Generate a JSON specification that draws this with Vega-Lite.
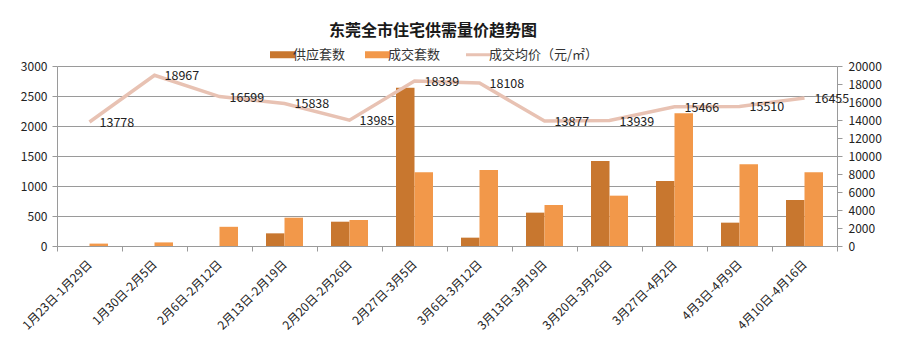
{
  "$schema": "https://vega.github.io/schema/vega-lite/v6.json",
  "width": 780,
  "height": 180,
  "autosize": {"type": "none"},
  "padding": {"left": 57, "top": 66, "right": 69, "bottom": 112},
  "background": "white",
  "config": {
    "font": "Noto Sans CJK SC",
    "view": {"stroke": null},
    "axis": {"labelFont": "Noto Sans CJK SC", "labelColor": "#222", "domainColor": "#9a9a9a", "tickColor": "#9a9a9a", "gridColor": "#9a9a9a", "labelFontSize": 12}
  },
  "title": {
    "text": "东莞全市住宅供需量价趋势图",
    "fontSize": 16,
    "fontWeight": "bold",
    "color": "#1a1a1a",
    "offset": 9,
    "dx": -14
  },
  "datasets": {
    "bars": [
      {"week": "1月23日-1月29日", "series": "供应套数", "value": 0},
      {"week": "1月23日-1月29日", "series": "成交套数", "value": 40},
      {"week": "1月30日-2月5日", "series": "供应套数", "value": 0},
      {"week": "1月30日-2月5日", "series": "成交套数", "value": 60},
      {"week": "2月6日-2月12日", "series": "供应套数", "value": 0},
      {"week": "2月6日-2月12日", "series": "成交套数", "value": 320},
      {"week": "2月13日-2月19日", "series": "供应套数", "value": 211},
      {"week": "2月13日-2月19日", "series": "成交套数", "value": 472},
      {"week": "2月20日-2月26日", "series": "供应套数", "value": 405},
      {"week": "2月20日-2月26日", "series": "成交套数", "value": 433},
      {"week": "2月27日-3月5日", "series": "供应套数", "value": 2639},
      {"week": "2月27日-3月5日", "series": "成交套数", "value": 1228},
      {"week": "3月6日-3月12日", "series": "供应套数", "value": 139},
      {"week": "3月6日-3月12日", "series": "成交套数", "value": 1267},
      {"week": "3月13日-3月19日", "series": "供应套数", "value": 556},
      {"week": "3月13日-3月19日", "series": "成交套数", "value": 683},
      {"week": "3月20日-3月26日", "series": "供应套数", "value": 1417},
      {"week": "3月20日-3月26日", "series": "成交套数", "value": 839},
      {"week": "3月27日-4月2日", "series": "供应套数", "value": 1083},
      {"week": "3月27日-4月2日", "series": "成交套数", "value": 2211},
      {"week": "4月3日-4月9日", "series": "供应套数", "value": 389},
      {"week": "4月3日-4月9日", "series": "成交套数", "value": 1361},
      {"week": "4月10日-4月16日", "series": "供应套数", "value": 767},
      {"week": "4月10日-4月16日", "series": "成交套数", "value": 1228}
    ],
    "prices": [
      {"week": "1月23日-1月29日", "price": 13778},
      {"week": "1月30日-2月5日", "price": 18967},
      {"week": "2月6日-2月12日", "price": 16599},
      {"week": "2月13日-2月19日", "price": 15838},
      {"week": "2月20日-2月26日", "price": 13985},
      {"week": "2月27日-3月5日", "price": 18339},
      {"week": "3月6日-3月12日", "price": 18108},
      {"week": "3月13日-3月19日", "price": 13877},
      {"week": "3月20日-3月26日", "price": 13939},
      {"week": "3月27日-4月2日", "price": 15466},
      {"week": "4月3日-4月9日", "price": 15510},
      {"week": "4月10日-4月16日", "price": 16455}
    ]
  },
  "encoding": {
    "x": {
      "field": "week",
      "type": "nominal",
      "sort": null,
      "scale": {"paddingInner": 0, "paddingOuter": 0},
      "axis": {
        "title": null,
        "labelAngle": -45,
        "labelAlign": "right",
        "labelBaseline": "middle",
        "labelPadding": 11,
        "tickBand": "extent",
        "tickSize": 5,
        "grid": false
      }
    }
  },
  "layer": [
    {
      "data": {"name": "bars"},
      "mark": {"type": "bar"},
      "encoding": {
        "xOffset": {"field": "series", "type": "nominal", "sort": ["供应套数", "成交套数"], "scale": {"paddingInner": 0, "paddingOuter": 0.757}},
        "y": {
          "field": "value",
          "type": "quantitative",
          "scale": {"domain": [0, 3000]},
          "axis": {"title": null, "values": [0, 500, 1000, 1500, 2000, 2500, 3000], "format": "d", "grid": true, "tickSize": 5, "labelPadding": 5}
        },
        "color": {
          "field": "series",
          "type": "nominal",
          "scale": {"domain": ["供应套数", "成交套数", "成交均价（元/㎡）"], "range": ["#C8772F", "#F2984A", "#E8C2B3"]},
          "legend": {
            "title": null,
            "orient": "none",
            "direction": "horizontal",
            "legendX": 219,
            "legendY": -18,
            "labelFontSize": 13,
            "labelColor": "#333",
            "labelFont": "Noto Sans CJK SC",
            "columnPadding": 19,
            "labelOffset": 4,
            "symbolSize": 625,
            "encode": {
              "symbols": {
                "update": {
                  "shape": {"signal": "datum.value === '成交均价（元/㎡）' ? 'M-1,0H1' : 'M-1,-0.28H1V0.28H-1Z'"},
                  "size": {"value": 625},
                  "fill": {"signal": "datum.value === '成交均价（元/㎡）' ? 'transparent' : scale('color', datum.value)"},
                  "stroke": {"signal": "scale('color', datum.value)"},
                  "strokeWidth": {"signal": "datum.value === '成交均价（元/㎡）' ? 3 : 0"},
                  "opacity": {"value": 1}
                }
              }
            }
          }
        }
      }
    },
    {
      "data": {"name": "prices"},
      "encoding": {
        "y": {
          "field": "price",
          "type": "quantitative",
          "scale": {"domain": [0, 20000]},
          "axis": {"title": null, "orient": "right", "values": [0, 2000, 4000, 6000, 8000, 10000, 12000, 14000, 16000, 18000, 20000], "format": "d", "labelOverlap": false, "labelFontSize": 12, "grid": false, "tickSize": 5, "labelPadding": 6}
        }
      },
      "layer": [
        {
          "mark": {"type": "line", "strokeWidth": 3.5},
          "encoding": {
            "color": {"datum": "成交均价（元/㎡）", "type": "nominal"}
          }
        },
        {
          "mark": {"type": "text", "align": "left", "baseline": "middle", "dx": 10, "dy": 1, "fontSize": 12.5, "color": "#222"},
          "encoding": {
            "text": {"field": "price", "type": "quantitative", "format": "d"}
          }
        }
      ]
    }
  ],
  "resolve": {"scale": {"y": "independent"}}
}
